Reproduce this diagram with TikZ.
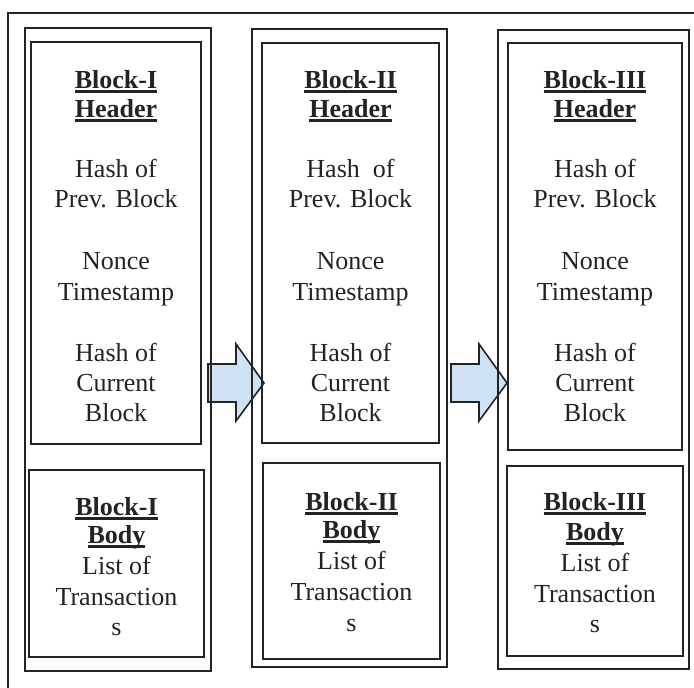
\documentclass[tikz,border=0pt]{standalone}
\usepackage{fontspec}
\setmainfont{Liberation Serif}
\definecolor{arrowfill}{RGB}{207,226,243}
\definecolor{ln}{RGB}{35,35,35}
\newcommand{\ulb}[1]{\setbox0\hbox{\bfseries #1}\rlap{\color{ln}\rule[-4.5pt]{\wd0}{2.2pt}}\box0}
\tikzset{
  boxline/.style={draw=ln, line width=1.7pt, inner sep=0pt, outer sep=0pt},
  txt/.style={anchor=base, inner sep=0pt, text=ln, font=\fontsize{26}{30}\selectfont},
  blockarrow/.style={draw=ln, line width=1.6pt, fill=arrowfill, line join=miter}
}
\begin{document}
\begin{tikzpicture}[x=1pt,y=-1pt]
\useasboundingbox (0,0) rectangle (694,688);
\clip (0,0) rectangle (694,688);
% outer frame
\draw[draw=ln, line width=1.7pt] (8,700) -- (8,13) -- (710,13);
% arrows
\draw[blockarrow] (208,364) -- (236,364) -- (236,344) -- (264,383) -- (236,421) -- (236,402) -- (208,402) -- cycle;
\draw[blockarrow] (451,364) -- (479,364) -- (479,344) -- (507,383) -- (479,421) -- (479,402) -- (451,402) -- cycle;
% columns
\node[boxline, minimum width=186pt, minimum height=643pt] (c1) at (118,349.5) {};
\node[boxline, minimum width=170pt, minimum height=402pt] (h1) at (116,243) {};
\node[boxline, minimum width=175pt, minimum height=187pt] (b1) at (116.5,563.5) {};
\node[boxline, minimum width=195pt, minimum height=638pt] (c2) at (349.5,348) {};
\node[boxline, minimum width=177pt, minimum height=400pt] (h2) at (350.5,243) {};
\node[boxline, minimum width=177pt, minimum height=196pt] (b2) at (351.5,561) {};
\node[boxline, minimum width=191pt, minimum height=639pt] (c3) at (593.5,349.5) {};
\node[boxline, minimum width=174pt, minimum height=407pt] (h3) at (595,246.5) {};
\node[boxline, minimum width=176pt, minimum height=190pt] (b3) at (595,561) {};
% header texts
\foreach \k/\cx/\lab/\hash in {1/116/I/{Hash of}, 2/350.5/II/{Hash\ \ of}, 3/595/III/{Hash of}} {
  \node[txt] (t\k a) at (\cx,88) {\ulb{Block-\lab}};
  \node[txt] (t\k b) at (\cx,117) {\ulb{Header}};
  \node[txt] (t\k c) at (\cx,177) {\hash};
  \node[txt] (t\k d) at (\cx,207) {Prev. Block};
  \node[txt] (t\k e) at (\cx,269) {Nonce};
  \node[txt] (t\k f) at (\cx,300) {Timestamp};
  \node[txt] (t\k g) at (\cx,361) {Hash of};
  \node[txt] (t\k h) at (\cx,391) {Current};
  \node[txt] (t\k i) at (\cx,421) {Block};
}
% body texts
\foreach \k/\cx/\lab/\ya/\yb/\yc/\yd/\ye in {1/116.5/I/515/543/574/605/635, 2/351.5/II/510/538/569/600/631, 3/595/III/510/540/571/602/632} {
  \node[txt] (u\k a) at (\cx,\ya) {\ulb{Block-\lab}};
  \node[txt] (u\k b) at (\cx,\yb) {\ulb{Body}};
  \node[txt] (u\k c) at (\cx,\yc) {List of};
  \node[txt] (u\k d) at (\cx,\yd) {Transaction};
  \node[txt] (u\k e) at (\cx,\ye) {s};
}
\end{tikzpicture}
\end{document}
